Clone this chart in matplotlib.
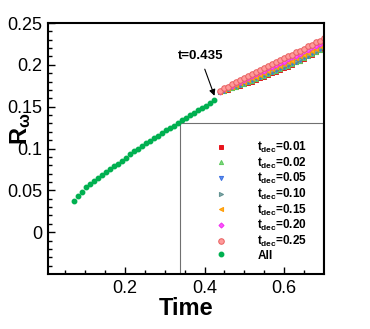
import numpy as np
import matplotlib
matplotlib.use("Agg")
import matplotlib.pyplot as plt
from matplotlib.patches import Rectangle

plt.rcParams['font.family'] = ['Liberation Sans', 'DejaVu Sans']
plt.rcParams['mathtext.fontset'] = 'custom'
plt.rcParams['mathtext.rm'] = 'Liberation Sans:bold'
plt.rcParams['mathtext.bf'] = 'Liberation Sans:bold'
plt.rcParams['mathtext.it'] = 'Liberation Sans:bold'

# data
t_all = [0.073, 0.083, 0.093, 0.103, 0.113, 0.123, 0.133, 0.143, 0.153, 0.163,
         0.173, 0.183, 0.193, 0.203, 0.213, 0.223, 0.233, 0.243, 0.253, 0.263,
         0.273, 0.283, 0.293, 0.303, 0.313, 0.323, 0.333, 0.343, 0.353, 0.363,
         0.373, 0.383, 0.393, 0.403, 0.413, 0.423]
r_all = [0.037, 0.043, 0.048, 0.0535, 0.0575, 0.061, 0.0645, 0.068, 0.0715, 0.0755,
         0.0795, 0.082, 0.0855, 0.089, 0.093, 0.0965, 0.100, 0.1035, 0.1065, 0.1095,
         0.1125, 0.1155, 0.1187, 0.1218, 0.1246, 0.1274, 0.131, 0.134, 0.137, 0.140,
         0.143, 0.1456, 0.1485, 0.1512, 0.154, 0.1575]

t_dec = [0.44, 0.45, 0.46, 0.47, 0.48, 0.49, 0.50, 0.51, 0.52, 0.53, 0.54, 0.55,
         0.56, 0.57, 0.58, 0.59, 0.60, 0.61, 0.62, 0.63, 0.64, 0.65, 0.66, 0.67,
         0.68, 0.69, 0.70]
r_001 = [0.167, 0.169, 0.170, 0.172, 0.173, 0.175, 0.177, 0.178, 0.180, 0.182, 0.184,
         0.186, 0.188, 0.190, 0.192, 0.194, 0.196, 0.198, 0.200, 0.203, 0.205, 0.207,
         0.210, 0.212, 0.215, 0.218, 0.221]
r_002 = [0.167, 0.169, 0.171, 0.172, 0.174, 0.176, 0.177, 0.179, 0.181, 0.183, 0.185,
         0.187, 0.189, 0.191, 0.193, 0.195, 0.197, 0.199, 0.201, 0.203, 0.205, 0.208,
         0.210, 0.213, 0.215, 0.218, 0.221]
r_005 = [0.168, 0.169, 0.171, 0.173, 0.175, 0.176, 0.178, 0.180, 0.182, 0.184, 0.186,
         0.188, 0.190, 0.192, 0.194, 0.196, 0.198, 0.200, 0.202, 0.204, 0.206, 0.209,
         0.211, 0.214, 0.216, 0.219, 0.222]
r_010 = [0.168, 0.170, 0.172, 0.174, 0.175, 0.177, 0.179, 0.181, 0.183, 0.185, 0.187,
         0.189, 0.191, 0.193, 0.195, 0.197, 0.199, 0.201, 0.203, 0.205, 0.207, 0.210,
         0.212, 0.215, 0.217, 0.220, 0.223]
r_015 = [0.168, 0.170, 0.172, 0.174, 0.176, 0.178, 0.180, 0.182, 0.184, 0.186, 0.188,
         0.190, 0.193, 0.195, 0.197, 0.199, 0.201, 0.203, 0.205, 0.208, 0.210, 0.212,
         0.214, 0.217, 0.219, 0.222, 0.224]
r_020 = [0.168, 0.171, 0.173, 0.175, 0.178, 0.180, 0.182, 0.184, 0.187, 0.189, 0.191,
         0.193, 0.196, 0.198, 0.200, 0.202, 0.204, 0.207, 0.209, 0.211, 0.213, 0.216,
         0.218, 0.221, 0.223, 0.225, 0.228]
r_025 = [0.169, 0.172, 0.174, 0.177, 0.179, 0.182, 0.184, 0.187, 0.189, 0.191, 0.194,
         0.196, 0.199, 0.201, 0.203, 0.206, 0.208, 0.210, 0.212, 0.215, 0.217, 0.219,
         0.222, 0.224, 0.227, 0.229, 0.232]

dec_labels = ['0.01', '0.02', '0.05', '0.10', '0.15', '0.20', '0.25']
dec_series = [r_001, r_002, r_005, r_010, r_015, r_020, r_025]
markers = ['s', '^', 'v', '>', '<', 'D', 'o']
faces = ['#e8141c', '#7ed87e', '#5b8ff0', '#7fa8a8', '#ffb020', '#ff50ff', '#ff9a9a']
edges = ['#e8141c', '#5cc85c', '#3b6fe0', '#5f8f8f', '#ff9900', '#ee30ee', '#e86060']
sizes = [2.6, 3.0, 3.0, 3.0, 3.0, 2.6, 4.0]

fig = plt.figure(figsize=(3.7, 3.29), dpi=100)
ax = fig.add_axes([0.1297, 0.1672, 0.746, 0.7628])

handles = []
for lab, r, m, fc, ec, ms in zip(dec_labels, dec_series, markers, faces, edges, sizes):
    h, = ax.plot(t_dec, r, ls='none', marker=m, ms=ms, mfc=fc, mec=ec, mew=0.7,
                 label=r'$t_{dec}$=' + lab)
    handles.append(h)
h, = ax.plot(t_all, r_all, ls='none', marker='o', ms=3.2, mfc='#00b050', mec='#00b050',
             label='All')
handles.append(h)

ax.set_xlim(0.007, 0.70)
ax.set_ylim(-0.05, 0.25)
ax.set_xticks([0.2, 0.4, 0.6])
ax.set_xticklabels(['0.2', '0.4', '0.6'])
ax.set_yticks([0, 0.05, 0.1, 0.15, 0.2, 0.25])
ax.set_yticklabels(['0', '0.05', '0.1', '0.15', '0.2', '0.25'])
ax.set_xticks(np.arange(0.05, 0.70, 0.05), minor=True)
ax.set_yticks(np.arange(-0.04, 0.25, 0.01), minor=True)
ax.tick_params(which='both', direction='in', top=False, right=False, labelsize=13, width=1)
ax.tick_params(which='major', length=5, pad=4)
ax.tick_params(which='minor', length=3)
for s in ax.spines.values():
    s.set_linewidth(1.5)

ax.set_xlabel('Time', fontsize=17, fontweight='bold', labelpad=0)
ax.set_ylabel(r'$R_{\omega}$', fontsize=17)
ax.yaxis.set_label_coords(-0.055, 0.58)

ax.annotate('t=0.435', xy=(0.425, 0.163), xytext=(0.389, 0.210),
            fontsize=9.5, fontweight='bold', ha='center', va='center',
            arrowprops=dict(arrowstyle='-|>', color='black', lw=0.8,
                            mutation_scale=9, shrinkA=3, shrinkB=0))

ax.add_patch(Rectangle((0.478, 0.0), 0.518, 0.60, transform=ax.transAxes,
                       fill=False, edgecolor='#707070', lw=0.8, zorder=1))
leg = ax.legend(handles=handles, loc='upper left', bbox_to_anchor=(0.605, 0.535),
                frameon=False, prop={'weight': 'bold', 'size': 8.5},
                handletextpad=2.6, labelspacing=0.05, handlelength=1.0,
                borderpad=0, borderaxespad=0)

fig.savefig('out.png', dpi=100)
